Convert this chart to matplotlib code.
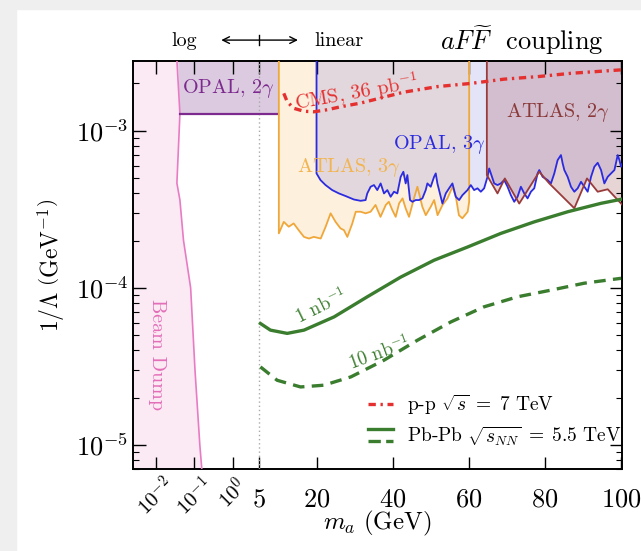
import numpy as np
import matplotlib
matplotlib.use("Agg")
import matplotlib.pyplot as plt
from matplotlib.legend_handler import HandlerBase
from matplotlib.lines import Line2D
from matplotlib.patches import Rectangle
from matplotlib.ticker import FixedLocator, NullLocator, LogLocator, NullFormatter

plt.rcParams.update({
    "font.family": "serif",
    "font.serif": ["cmr10", "DejaVu Serif"],
    "mathtext.fontset": "cm",
    "axes.formatter.use_mathtext": True,
    "axes.unicode_minus": False,
})

# ---------------- data (m_a in GeV, 1/Lambda in GeV^-1) ----------------
beam_m = [0.0345, 0.042, 0.035, 0.042, 0.052, 0.080, 0.104, 0.139, 0.165]
beam_y = [3.0e-3, 1.28e-3, 4.64e-4, 3.62e-4, 2.01e-4, 1.0e-4, 2.99e-5, 1.0e-5, 6.0e-6]

opal2_m = [0.042, 10.0]
opal2_y = [1.28e-3, 1.28e-3]

atlas3_m = [10.1, 11.4, 12.7, 14.0, 15.3, 16.7, 18.0, 19.3, 21.1, 22.4, 23.7, 25.0, 26.3, 27.2, 28.1,
            29.4, 30.3, 31.6, 32.9, 34.2, 35.5, 36.8, 38.2, 39.0, 39.9, 40.8, 41.7, 42.6, 43.4, 44.3,
            45.6, 46.5, 47.8, 48.7, 50.0, 50.9, 51.8, 53.1, 54.4, 55.7, 56.6, 57.4, 58.3, 59.7, 60.1]
atlas3_y = [2.22e-4, 2.63e-4, 2.45e-4, 2.57e-4, 2.33e-4, 2.11e-4, 2.06e-4, 2.11e-4, 2.06e-4, 2.45e-4,
            2.98e-4, 2.63e-4, 2.39e-4, 2.33e-4, 2.11e-4, 2.57e-4, 3.05e-4, 3.05e-4, 2.98e-4, 3.05e-4,
            3.37e-4, 2.83e-4, 3.37e-4, 3.53e-4, 3.13e-4, 2.83e-4, 3.45e-4, 3.71e-4, 3.21e-4, 2.83e-4,
            3.71e-4, 4.40e-4, 3.28e-4, 2.90e-4, 3.28e-4, 3.62e-4, 2.90e-4, 3.37e-4, 3.71e-4, 4.40e-4,
            3.80e-4, 2.90e-4, 2.77e-4, 3.05e-4, 3.53e-4]

opal3_m = [20.0, 21.05, 22.37, 24.12, 25.88, 27.63, 29.82, 31.58, 32.89, 33.33, 34.21, 35.09, 35.96,
           36.84, 37.72, 38.60, 39.47, 40.35, 41.23, 42.11, 42.81, 43.42, 43.86, 44.56, 45.18, 46.05,
           46.93, 47.81, 48.68, 49.12, 50.0, 50.88, 51.32, 51.75, 52.19, 53.07, 53.95, 54.82, 55.70,
           56.58, 57.46, 58.33, 59.65, 60.53, 61.40,
           62.28, 63.16, 64.03, 64.91, 65.35, 65.79, 66.67, 67.54, 68.42, 69.30, 70.18, 71.05, 71.93,
           72.81, 73.68, 74.56, 75.44, 76.32, 77.19, 78.07, 78.51, 79.39, 80.70, 81.58, 82.46, 83.33,
           84.21, 84.65, 85.09, 85.96, 86.84, 87.72, 88.60, 89.47, 90.35, 91.23, 92.11, 92.98, 93.86,
           94.74, 95.61, 96.49, 97.37, 98.25, 99.12, 99.56, 100.0, 100.4]
opal3_y = [5.35e-4, 4.85e-4, 4.51e-4, 4.19e-4, 3.99e-4, 3.84e-4, 3.65e-4, 3.58e-4, 3.62e-4, 3.99e-4,
           4.40e-4, 4.51e-4, 4.19e-4, 4.62e-4, 3.99e-4, 4.19e-4, 3.80e-4, 4.09e-4, 3.99e-4, 5.09e-4,
           5.48e-4, 4.62e-4, 5.22e-4, 3.62e-4, 3.53e-4, 3.62e-4, 3.62e-4, 3.71e-4, 4.19e-4, 4.62e-4,
           4.40e-4, 5.09e-4, 5.35e-4, 4.62e-4, 4.19e-4, 3.44e-4, 3.99e-4, 4.30e-4, 4.62e-4, 3.80e-4,
           3.62e-4, 3.89e-4, 4.19e-4, 4.51e-4, 4.19e-4,
           4.30e-4, 4.09e-4, 4.30e-4, 5.09e-4, 5.75e-4, 5.35e-4, 4.62e-4, 4.51e-4, 4.62e-4, 4.85e-4,
           4.40e-4, 3.89e-4, 3.53e-4, 3.80e-4, 4.40e-4, 3.99e-4, 3.71e-4, 4.09e-4, 4.30e-4, 5.35e-4,
           5.62e-4, 5.09e-4, 4.85e-4, 4.62e-4, 5.35e-4, 6.50e-4, 7.00e-4, 6.20e-4, 5.62e-4, 5.09e-4,
           4.40e-4, 4.09e-4, 4.30e-4, 4.73e-4, 4.40e-4, 4.09e-4, 5.09e-4, 5.90e-4, 6.25e-4, 5.62e-4,
           4.62e-4, 5.09e-4, 5.35e-4, 5.62e-4, 7.00e-4, 6.50e-4, 5.90e-4, 6.20e-4]

atlas2_m = [64.74, 67.54, 69.47, 73.25, 78.51, 81.14, 87.72, 91.05, 93.86, 96.49, 100.4]
atlas2_y = [5.22e-4, 3.99e-4, 4.97e-4, 3.44e-4, 5.48e-4, 4.62e-4, 3.21e-4, 4.97e-4, 4.09e-4, 4.24e-4, 3.36e-4]

cms_m = [11.4, 12.3, 14.0, 16.7, 19.3, 22.8, 26.3, 31.6, 42.9, 51.8, 60.5, 69.3, 78.1, 86.8, 100.0]
cms_y = [1.73e-3, 1.53e-3, 1.39e-3, 1.33e-3, 1.32e-3, 1.36e-3, 1.42e-3, 1.50e-3, 1.76e-3, 1.91e-3,
         2.00e-3, 2.13e-3, 2.21e-3, 2.32e-3, 2.44e-3]

pb1_m = [5.26, 7.89, 12.3, 16.7, 24.6, 33.3, 42.1, 50.9, 59.7, 68.4, 77.2, 86.0, 94.7, 100.0]
pb1_y = [5.93e-5, 5.38e-5, 5.13e-5, 5.38e-5, 6.53e-5, 8.76e-5, 1.17e-4, 1.50e-4, 1.82e-4, 2.22e-4,
         2.63e-4, 3.05e-4, 3.45e-4, 3.66e-4]

pb10_m = [5.26, 9.66, 15.8, 21.9, 29.0, 37.7, 46.5, 55.3, 64.0, 72.8, 81.6, 90.3, 100.0]
pb10_y = [3.14e-5, 2.58e-5, 2.34e-5, 2.40e-5, 2.71e-5, 3.46e-5, 4.64e-5, 6.07e-5, 7.57e-5, 8.77e-5,
          9.67e-5, 1.07e-4, 1.15e-4]

xticks = [0.01, 0.1, 1, 5, 20, 40, 60, 80, 100]
xticklabels = [r"$10^{-2}$", r"$10^{-1}$", r"$10^{0}$", r"$5$", r"$20$", r"$40$", r"$60$", r"$80$", r"$100$"]
yticks = [1e-5, 1e-4, 1e-3]
yticklabels = [r"$10^{-5}$", r"$10^{-4}$", r"$10^{-3}$"]

# ---------------- scale: log below 5 GeV, linear above ----------------
S = 0.0994
L5 = np.log10(5.0)


def fwd(x):
    x = np.asarray(x, dtype=float)
    with np.errstate(all="ignore"):
        lg = np.log10(np.clip(x, 1e-12, None))
    return np.where(x <= 5.0, lg, L5 + (x - 5.0) * S)


def inv(u):
    u = np.asarray(u, dtype=float)
    return np.where(u <= L5, 10.0 ** np.minimum(u, L5), 5.0 + (u - L5) / S)


class StackHandler(HandlerBase):
    def create_artists(self, legend, orig_handle, xdescent, ydescent, width, height, fontsize, trans):
        arts = []
        ys = [-ydescent + 0.95 * height, -ydescent + 0.05 * height]
        for h, yy in zip(orig_handle, ys):
            ln = Line2D([-xdescent, -xdescent + width], [yy, yy], color=h.get_color(),
                        lw=h.get_linewidth(), ls=h.get_linestyle())
            ln.set_transform(trans)
            arts.append(ln)
        return arts


fig = plt.figure(figsize=(6.41, 5.51), dpi=100)
fig.patches.append(Rectangle((0, 0), 16 / 641, 1, transform=fig.transFigure, color="#efefef", zorder=-5))
fig.patches.append(Rectangle((0, 1 - 9 / 551), 1, 9 / 551, transform=fig.transFigure, color="#efefef", zorder=-5))

ax = fig.add_axes([0.208, 0.1483, 0.7621, 0.7415])
ax.set_xscale("function", functions=(fwd, inv))
ax.set_yscale("log")
ax.set_xlim(0.00255, 100.2)
ax.set_ylim(7.0e-6, 2.79e-3)

YTOP = 5e-3
YBOT = 1e-6

# Beam dump
ax.fill([1e-3] + beam_m + [1e-3], [YTOP] + beam_y + [YBOT], color="#fbe9f4", lw=0, zorder=1)
ax.plot(beam_m, beam_y, color="#e87cc4", lw=1.2, zorder=5)

# OPAL 2 gamma
ax.fill([beam_m[0]] + opal2_m + [opal2_m[-1]], [YTOP] + opal2_y + [YTOP], color="#dccbe0", lw=0, zorder=1)
ax.plot(opal2_m, opal2_y, color="#7d2a8e", lw=1.6, zorder=5)

# ATLAS 3 gamma
ax.fill([atlas3_m[0]] + atlas3_m + [atlas3_m[-1]], [YTOP] + atlas3_y + [YTOP], color="#fdf0dd", lw=0, zorder=1.1)
ax.plot([atlas3_m[0]] + atlas3_m + [atlas3_m[-1]], [YTOP] + atlas3_y + [YTOP], color="#f0a73a", lw=1.3, zorder=5)

# OPAL 3 gamma
ax.fill([opal3_m[0]] + opal3_m + [opal3_m[-1]], [YTOP] + opal3_y + [YTOP], color="#3030d8", alpha=0.13, lw=0, zorder=1.2)
ax.plot([opal3_m[0]] + opal3_m, [YTOP] + opal3_y, color="#2b2be0", lw=1.3, zorder=5)

# ATLAS 2 gamma
ax.fill([atlas2_m[0]] + atlas2_m + [atlas2_m[-1]], [YTOP] + atlas2_y + [YTOP], color="#8b2a2a", alpha=0.2, lw=0, zorder=1.3)
ax.plot([atlas2_m[0]] + atlas2_m, [YTOP] + atlas2_y, color="#9a3b3b", lw=1.3, zorder=5)

# x = 5 divider
ax.axvline(5, color="#aaaaaa", ls=(0, (1, 2)), lw=1.0, zorder=4)

# CMS projection
cms_line, = ax.plot(cms_m, cms_y, color="#e53030", lw=2.4, ls=(0, (2.2, 1.4, 0.7, 1.4)), zorder=6)

# Pb-Pb projections
green = "#3b7d2e"
pb1_line, = ax.plot(pb1_m, pb1_y, color=green, lw=2.4, zorder=6)
pb10_line, = ax.plot(pb10_m, pb10_y, color=green, lw=2.4, ls=(0, (3.5, 2.2)), zorder=6)

# Region labels
fs = 14.5
ax.text(0.76, 1.85e-3, r"OPAL, $2\gamma$", color="#7d2a8e", fontsize=fs, ha="center", va="center", zorder=7)
ax.text(0.0108, 3.78e-5, "Beam Dump", color="#e36fb8", fontsize=14.5, rotation=-90, ha="center", va="center", zorder=7)
ax.text(30.6, 1.76e-3, r"CMS, 36 pb$^{-1}$", color="#e53030", fontsize=fs, rotation=10, ha="center", va="center", zorder=7)
ax.text(28.4, 5.87e-4, r"ATLAS, $3\gamma$", color="#f2b450", fontsize=fs, ha="center", va="center", zorder=7)
ax.text(52.3, 8.2e-4, r"OPAL, $3\gamma$", color="#2b2be0", fontsize=fs, ha="center", va="center", zorder=7)
ax.text(83.5, 1.31e-3, r"ATLAS, $2\gamma$", color="#8b3a3a", fontsize=fs, ha="center", va="center", zorder=7)
ax.text(21.2, 7.6e-5, r"1 nb$^{-1}$", color=green, fontsize=13.5, rotation=26, ha="center", va="center", zorder=7)
ax.text(36.5, 3.85e-5, r"10 nb$^{-1}$", color=green, fontsize=13.5, rotation=20, ha="center", va="center", zorder=7)

# Axes cosmetics
ax.xaxis.set_major_locator(FixedLocator(xticks))
ax.set_xticklabels(xticklabels)
ax.xaxis.set_minor_locator(NullLocator())
ax.yaxis.set_major_locator(FixedLocator(yticks))
ax.set_yticklabels(yticklabels)
ax.yaxis.set_minor_locator(LogLocator(base=10, subs=np.arange(2, 10)))
ax.yaxis.set_minor_formatter(NullFormatter())
ax.tick_params(which="both", direction="in", top=True, right=True)
ax.tick_params(which="major", length=9, width=1.0, labelsize=19)
ax.tick_params(which="minor", length=4.5, width=0.8)
ax.tick_params(axis="x", pad=13)
for t in ax.xaxis.get_major_ticks()[:3]:
    t.set_pad(3)
    t.label1.set_rotation(45)
    t.label1.set_fontsize(15)
for sp in ax.spines.values():
    sp.set_linewidth(1.4)

ax.set_xlabel(r"$m_a\ (\mathrm{GeV})$", fontsize=18)
ax.xaxis.set_label_coords(0.5, -0.098)
ax.set_ylabel(r"$1/\Lambda\ \left(\mathrm{GeV}^{-1}\right)$", fontsize=17)
ax.yaxis.set_label_coords(-0.135, 0.5)

# Top annotations
ax.text(0.104, 1.049, "log", transform=ax.transAxes, fontsize=14.5, ha="center", va="center")
ax.text(0.42, 1.049, "linear", transform=ax.transAxes, fontsize=14.5, ha="center", va="center")
ax.annotate("", xy=(0.337, 1.0505), xytext=(0.180, 1.0505), xycoords="axes fraction",
            arrowprops=dict(arrowstyle="<->", lw=1.0, color="black", shrinkA=0, shrinkB=0,
                            mutation_scale=12))
ax.plot([0.258, 0.258], [1.038, 1.063], transform=ax.transAxes, color="black", lw=1.0, clip_on=False)
ax.text(0.963, 1.049, r"$aF\widetilde{F}$  coupling", transform=ax.transAxes, fontsize=19, ha="right", va="center")

# Legend
leg = ax.legend([cms_line, (pb1_line, pb10_line)],
                [r"p-p $\sqrt{s}\;=\;7$ TeV", r"Pb-Pb $\sqrt{s_{NN}}\;=\;5.5$ TeV"],
                handler_map={tuple: StackHandler()}, loc="lower right", bbox_to_anchor=(1.035, 0.01),
                frameon=False, fontsize=14, handlelength=1.3, handletextpad=0.7, labelspacing=0.35)

fig.savefig("out.png", dpi=100)
